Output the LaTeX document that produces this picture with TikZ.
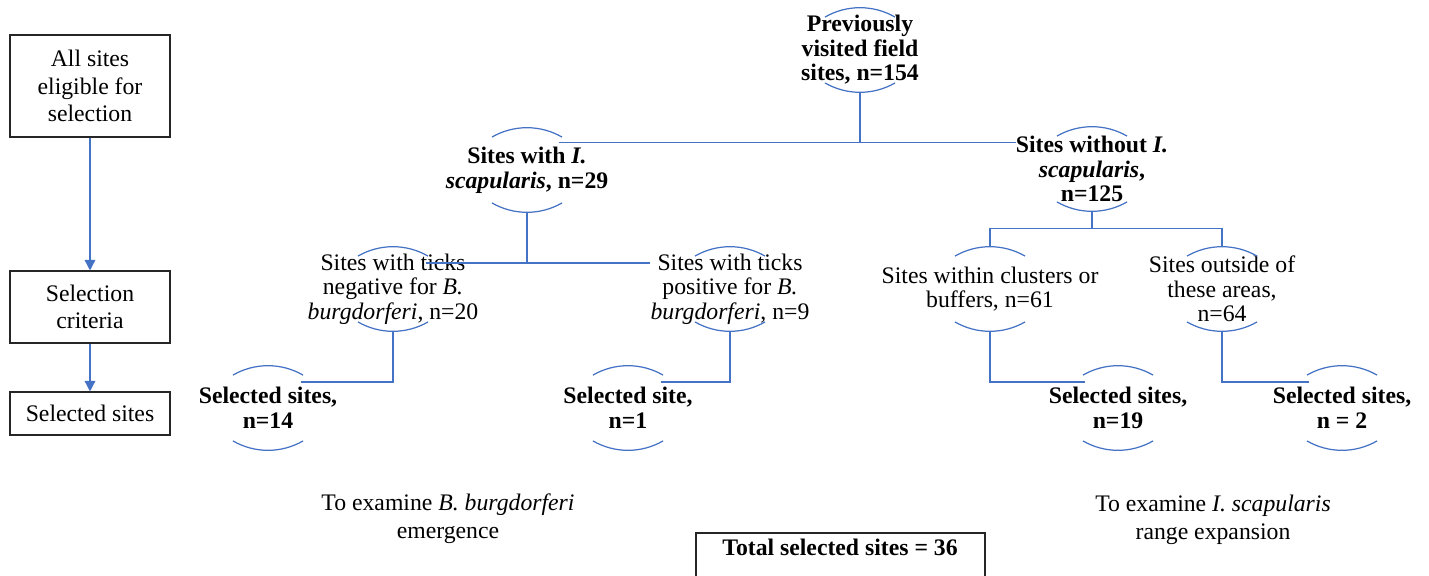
\documentclass[tikz,border=0pt]{standalone}
\usepackage{fontspec}
\setmainfont{Liberation Serif}
\usetikzlibrary{arrows.meta,calc}
\definecolor{linkblue}{RGB}{68,114,196}

\newcommand{\capsarcs}[1]{%
\draw[caparc] ([shift={(-35,-9.4)}]#1.north) arc[start angle=120, end angle=60, radius=1.4cm];
\draw[caparc] ([shift={(-35,9.4)}]#1.south) arc[start angle=240, end angle=300, radius=1.4cm];}

\begin{document}
\begin{tikzpicture}[x=0.02cm, y=0.02cm,
  font=\fontsize{13.5}{15.8}\selectfont,
  box/.style={draw=black!85, line width=0.6pt, align=center, minimum width=3.2cm, inner sep=2pt},
  capnode/.style={circle, minimum size=1.68cm, inner sep=0pt},
  tree/.style={align=center, inner sep=0pt, font=\fontsize{13.5}{14}\selectfont},
  btree/.style={tree, font=\fontsize{13.5}{14}\selectfont\bfseries},
  note/.style={align=center, inner sep=0pt},
  caparc/.style={linkblue, line width=0.7pt},
  link/.style={linkblue, line width=0.8pt},
  arr/.style={link, -{Triangle[width=6pt, length=6pt]}}]
\useasboundingbox (0,0) rectangle (1429,-575);
\clip (0,0) rectangle (1429,-575);

% legend on the left
\node[box, minimum height=2.04cm] (allsites) at (90,-86) {All sites\\eligible for\\selection};
\node[box, minimum height=1.44cm] (criteria) at (90,-307) {Selection\\criteria};
\node[box, minimum height=0.86cm] (selbox) at (90,-413.5) {Selected sites};
\draw[arr] (allsites) -- (criteria);
\draw[arr] (criteria) -- (selbox);

% tree
\node[capnode] (prev) at (860,-50) {};
\node[btree] (prevt) at (prev) {Previously\\visited field\\sites, n=154};
\node[capnode] (sw) at (527,-170) {};
\node[btree] (swt) at (sw) {Sites with \textit{I.}\\\textit{scapularis}, n=29};
\node[capnode] (swo) at (1092,-169) {};
\node[btree] (swot) at (swo) {Sites without \textit{I.}\\\textit{scapularis},\\n=125};
\node[capnode] (neg) at (393,-289) {};
\node[tree] (negt) at (neg) {Sites with ticks\\negative for \textit{B.}\\\textit{burgdorferi},~n=20};
\node[capnode] (pos) at (730,-289) {};
\node[tree] (post) at (pos) {Sites with ticks\\positive for \textit{B.}\\\textit{burgdorferi}, n=9};
\node[capnode] (clust) at (990,-289) {};
\node[tree] (clustt) at (clust) {Sites within clusters or\\buffers, n=61};
\node[capnode] (out) at (1222,-289) {};
\node[tree] (outt) at (out) {Sites outside of\\these areas,\\n=64};
\node[capnode] (sel14) at (268,-408) {};
\node[btree] (sel14t) at (sel14) {Selected sites,\\n=14};
\node[capnode] (sel1) at (628,-408) {};
\node[btree] (sel1t) at (sel1) {Selected site,\\n=1};
\node[capnode] (sel19) at (1118,-408) {};
\node[btree] (sel19t) at (sel19) {Selected sites,\\n=19};
\node[capnode] (sel2) at (1342,-408) {};
\node[btree] (sel2t) at (sel2) {Selected sites,\\n = 2};

\foreach \c in {prev,sw,swo,neg,pos,clust,out,sel14,sel1,sel19,sel2} {\capsarcs{\c}}

\draw[link] (prev.south) -- (prev.south |- sw.40);
\draw[link] (sw.40) -- (sw.40 -| swot.west);
\draw[link] (sw.south) -- (sw.south |- neg.38);
\draw[link] (neg.38) -- (neg.38 -| post.west);
\draw[link] (swo.south) -- ++(0,-17) coordinate (fork);
\draw[link] (clust.north) |- (fork) -| (out.north);
\draw[link] (neg.south) |- (sel14.38);
\draw[link] (pos.south) |- (sel1.38);
\draw[link] (clust.south) |- (sel19.142);
\draw[link] (out.south) |- (sel2.142);

% notes and total
\node[note] (bbnote) at (448,-519) {To examine \textit{B. burgdorferi}\\emergence};
\node[note] (isnote) at (1213,-520) {To examine \textit{I. scapularis}\\range expansion};
\node[note, font=\fontsize{13.5}{15.8}\selectfont\bfseries] (total) at (840,-547) {Total selected sites = 36};
\draw[draw=black!85, line width=0.6pt] ($(total.center)+(-144,14)$) rectangle ($(total.center)+(145,-40)$);
\end{tikzpicture}
\end{document}
